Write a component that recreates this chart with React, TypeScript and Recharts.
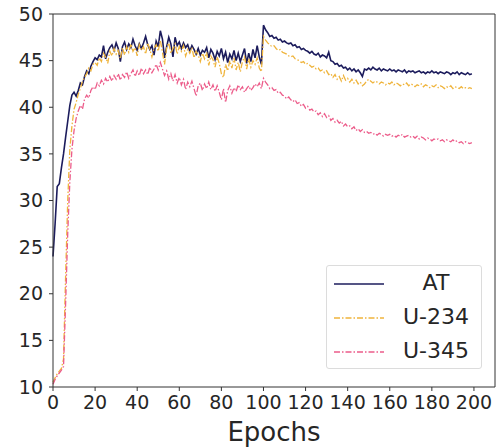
import React from "react";
import { LineChart, Line, XAxis, YAxis, ReferenceLine } from "recharts";

// accuracy per epoch (0..199)
const AT = [
  24.0, 27.5, 31.5, 31.8, 33.5, 35.0, 36.8, 38.5, 40.2, 41.3,
  41.6, 41.2, 41.8, 42.6, 42.4, 43.3, 43.9, 43.6, 44.4, 44.9,
  45.3, 45.1, 45.6, 45.4, 46.6, 45.2, 45.9, 46.4, 46.7, 46.1,
  46.9, 46.3, 44.9, 46.5, 47.0, 46.2, 46.8, 46.4, 47.3, 46.6,
  46.1, 46.8, 46.3, 46.9, 47.6, 46.7, 46.2, 46.6, 45.6, 47.1,
  46.5, 48.2, 47.3, 45.3, 46.5, 47.5, 46.8, 45.4, 47.5, 46.6,
  47.0, 46.3, 46.9, 46.4, 46.7, 46.0, 46.6, 46.2, 45.7, 46.3,
  45.6, 46.1, 45.9, 46.4, 45.3, 46.2, 45.8, 45.1, 46.0, 45.5,
  46.3, 45.2, 45.9, 44.8, 45.7, 45.2, 46.1, 45.0, 45.8, 44.9,
  45.6, 46.3, 44.7, 45.8, 44.9, 46.2, 45.3, 46.6, 45.4, 44.6,
  48.8, 48.3, 48.0, 47.6, 47.7, 47.4, 47.5, 47.2, 47.3, 47.0,
  47.1, 46.9, 46.8, 46.9, 46.6, 46.7, 46.4, 46.5, 46.2, 46.3,
  46.1, 46.0, 45.8, 46.0, 45.7, 45.6, 45.8, 45.4, 45.6, 45.5,
  45.3, 45.9, 45.0, 44.9, 44.6, 44.7, 44.4, 44.5, 44.2, 44.3,
  44.0, 44.2, 43.9, 44.1, 43.8, 44.0, 43.7, 43.3, 44.1, 44.0,
  44.2, 44.0, 44.3, 44.1, 44.0, 44.2, 43.9, 44.1, 44.0, 43.9,
  44.1, 43.9, 44.0, 43.8, 44.0, 43.9, 43.8, 44.0, 43.7, 43.9,
  43.8, 43.9, 43.7, 43.8, 43.9, 43.7, 43.8, 43.6, 43.8, 43.7,
  43.9, 43.7, 43.8, 43.6, 43.8, 43.7, 43.6, 43.8, 43.7, 43.5,
  43.7, 43.6, 43.8, 43.5, 43.7, 43.6, 43.5, 43.7, 43.5, 43.6,
];

const U234 = [
  10.5, 11.0, 11.4, 11.7, 12.0, 13.0, 22.0, 30.0, 35.5, 38.0,
  39.8, 40.5, 41.4, 42.0, 42.8, 43.2, 43.6, 44.2, 43.9, 44.6,
  44.8, 44.5, 45.3, 44.9, 45.8, 45.4, 44.7, 46.0, 45.5, 46.3,
  45.7, 46.1, 45.2, 46.4, 45.6, 46.5, 45.9, 46.8, 46.0, 46.4,
  45.5, 46.7, 46.1, 46.5, 45.7, 46.9, 46.2, 45.4, 46.3, 46.7,
  46.0, 47.2, 45.9, 44.6, 46.4, 46.9, 45.8, 46.3, 46.8, 45.7,
  46.5, 46.0, 46.6, 45.5, 46.2, 45.8, 46.4, 45.3, 46.0, 45.6,
  44.9, 45.8, 45.2, 45.9, 44.5, 45.5, 45.1, 44.3, 45.4, 44.7,
  43.6, 43.2, 44.6, 43.9, 45.0, 44.2, 45.3, 44.0, 44.8, 43.8,
  44.9, 45.4, 44.1, 45.2, 44.3, 45.0, 44.6, 45.3, 44.2, 43.8,
  47.6, 47.2, 46.9, 46.7, 46.5, 46.6, 46.3, 46.1, 46.2, 45.9,
  45.8, 45.7, 45.5, 45.4, 45.5, 45.2, 45.1, 45.0, 44.8, 44.9,
  44.6, 44.7, 44.5, 44.3, 44.4, 44.1, 44.2, 43.9, 44.0, 43.7,
  43.9, 43.5, 43.6, 43.2, 43.5, 43.0, 43.3, 42.8, 43.4, 42.9,
  43.1, 42.7, 43.0, 42.6, 42.9, 42.5, 42.7, 42.3, 42.5, 42.8,
  43.0, 42.8, 42.6, 42.8, 42.7, 42.5, 42.7, 42.6, 42.4, 42.6,
  42.5, 42.7, 42.4, 42.6, 42.5, 42.3, 42.5, 42.4, 42.6, 42.3,
  42.5, 42.4, 42.2, 42.4, 42.3, 42.5, 42.2, 42.4, 42.3, 42.1,
  42.3, 42.2, 42.4, 42.1, 42.3, 42.2, 42.0, 42.2, 42.1, 42.3,
  42.0, 42.2, 42.1, 42.0, 42.2, 42.0, 42.1, 42.0, 42.1, 42.0,
];

const U345 = [
  10.3, 10.8, 11.2, 11.5, 11.8, 12.2, 19.0, 26.5, 32.0, 35.5,
  37.5, 38.8, 39.6, 40.2, 39.8, 40.9, 41.3, 41.0, 41.8, 42.2,
  41.9, 42.6, 42.3, 42.9, 42.5, 43.1, 42.7, 43.3, 42.8, 43.4,
  43.0, 43.6, 42.9, 43.5, 43.2, 43.8, 43.1, 43.6, 44.0, 43.3,
  43.9, 43.4, 44.2, 43.6, 44.0, 43.5, 44.3, 43.7, 44.1, 44.6,
  44.0, 44.8, 44.1, 43.4, 43.9, 43.0, 43.6, 42.8, 43.5, 42.6,
  43.2, 42.4, 43.0, 41.9, 42.7, 42.2, 42.8, 42.0, 41.2, 42.3,
  42.6, 41.8, 42.5, 42.0, 42.7, 41.9, 42.4, 41.7, 42.3, 41.6,
  40.8, 42.0, 40.5, 41.8, 42.3, 41.5, 42.1, 41.7, 42.4, 41.9,
  42.2, 41.6, 42.0, 42.3, 41.8, 42.1, 42.5, 42.2, 42.6, 42.0,
  43.1, 42.7, 42.4, 42.0, 42.1, 41.8, 41.9, 41.5, 41.6, 41.3,
  41.2, 40.9, 41.1, 40.8, 40.6, 40.8, 40.4, 40.5, 40.1, 40.3,
  39.9, 40.1, 39.7, 39.8, 39.5, 39.6, 39.2, 39.4, 39.0, 39.3,
  38.9, 39.1, 38.6, 38.8, 38.4, 38.6, 38.3, 38.5, 38.0, 38.2,
  37.9, 38.0, 37.7, 37.9, 37.5, 37.7, 37.4, 37.6, 37.3, 37.4,
  37.2, 37.3, 37.1, 37.2, 37.0, 37.2, 37.1, 36.9, 37.1, 37.0,
  37.1, 36.9, 37.0, 36.8, 37.0, 36.9, 37.1, 36.8, 36.9, 37.0,
  36.8, 36.9, 36.7, 36.9, 36.6, 36.8, 36.7, 36.5, 36.7, 36.6,
  36.4, 36.6, 36.5, 36.6, 36.4, 36.5, 36.3, 36.5, 36.4, 36.3,
  36.5, 36.3, 36.4, 36.2, 36.3, 36.1, 36.3, 36.2, 36.1, 36.2,
];

const xTicks = [0, 20, 40, 60, 80, 100, 120, 140, 160, 180, 200];
const yTicks = [10, 15, 20, 25, 30, 35, 40, 45, 50];

const rows = AT.map((v, i) => ({ epoch: i, AT: v, U234: U234[i], U345: U345[i] }));

const series = [
  { key: "AT", name: "AT", color: "#1c1c5c", width: 1.6, dash: undefined },
  { key: "U234", name: "U-234", color: "#efb43c", width: 1.3, dash: "6 2 1.5 2" },
  { key: "U345", name: "U-345", color: "#ec5c8a", width: 1.3, dash: "6 2 1.5 2" },
];

const FONT = "'DejaVu Sans', sans-serif";
const tickStyle = { fontSize: 19, fill: "#262626", fontFamily: FONT };

function LegendBox() {
  return (
    <div
      style={{
        position: "absolute",
        left: 326,
        top: 265,
        width: 156,
        height: 104,
        border: "1px solid #dcdcdc",
        borderRadius: 3,
        background: "rgba(255,255,255,0.85)",
        boxSizing: "border-box",
        fontFamily: FONT,
      }}
    >
      {series.map((s, i) => (
        <div key={s.key} style={{ position: "absolute", left: 0, top: 2 + i * 34, width: 156, height: 34 }}>
          <svg width={60} height={34} style={{ position: "absolute", left: 6, top: 0 }}>
            <line x1={1} x2={51} y1={16} y2={16} stroke={s.color} strokeWidth={s.width} strokeDasharray={s.dash} />
          </svg>
          <span
            style={{
              position: "absolute",
              left: 70,
              width: 78,
              top: 2,
              textAlign: "center",
              fontSize: 22,
              color: "#262626",
            }}
          >
            {s.name}
          </span>
        </div>
      ))}
    </div>
  );
}

export default function App() {
  return (
    <div style={{ position: "absolute", left: 0, top: 0, width: 502, height: 448, background: "#fff" }}>
      <LineChart width={502} height={448} data={rows} margin={{ top: 14, right: 7, bottom: 0, left: 0 }}>
        <XAxis
          dataKey="epoch"
          type="number"
          domain={[0, 210]}
          ticks={xTicks}
          interval={0}
          height={61}
          tickSize={4}
          tickMargin={5}
          tick={tickStyle}
          stroke="#333"
          label={{ value: "Epochs", position: "insideBottom", offset: 7, fontSize: 26, fill: "#262626", fontFamily: FONT }}
        />
        <YAxis
          type="number"
          domain={[10, 50]}
          ticks={yTicks}
          interval={0}
          width={53}
          tickSize={4}
          tickMargin={6}
          tick={tickStyle}
          stroke="#333"
        />
        <ReferenceLine y={50} stroke="#333" />
        <ReferenceLine x={210} stroke="#333" />
        {series.map((s) => (
          <Line
            key={s.key}
            type="linear"
            dataKey={s.key}
            name={s.name}
            stroke={s.color}
            strokeWidth={s.width}
            strokeDasharray={s.dash}
            dot={false}
            activeDot={false}
            isAnimationActive={false}
          />
        ))}
      </LineChart>
      <LegendBox />
    </div>
  );
}
